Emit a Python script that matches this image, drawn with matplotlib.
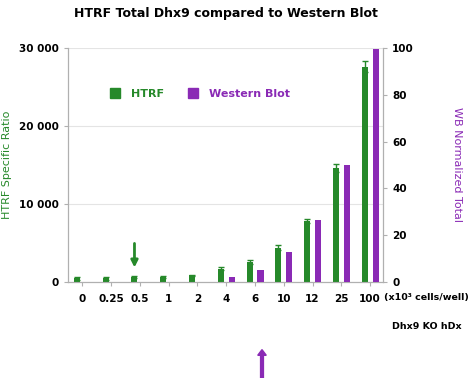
import numpy as np
from matplotlib import pyplot as plt
from matplotlib.patches import Patch

# cell densities (x10^3 cells/well)
cells = ['0', '0.25', '0.5', '1', '2', '4', '6', '10', '12', '25', '100']
htrf = [450, 450, 600, 650, 850, 1700, 2600, 4400, 7800, 14600, 27600]
htrf_err = [150, 150, 150, 100, 80, 200, 250, 300, 300, 500, 700]
wb = [0, 0, 0, 0, 0, 2, 5, 13, 26.5, 50, 99.6]

green = '#26892a'
purple = '#8a2ab5'

fig = plt.figure(figsize=(4.74, 3.78), dpi=100)
ax = fig.add_axes([0.1435, 0.254, 0.6646, 0.619])
ax2 = ax.twinx()

x = np.arange(len(cells))
w = 0.21
ax.bar(x - 0.19, htrf, w, color=green, yerr=htrf_err,
       error_kw=dict(ecolor=green, elinewidth=1, capsize=2, capthick=1), zorder=3)
ax2.bar(x + 0.19, wb, w, color=purple, zorder=3)

ax.set_xlim(-0.5, 10.45)
ax.set_ylim(0, 30000)
ax2.set_ylim(0, 100)
ax.set_yticks([0, 10000, 20000, 30000])
ax.set_yticklabels(['0', '10 000', '20 000', '30 000'])
ax2.set_yticks([0, 20, 40, 60, 80, 100])
ax.set_xticks(x)
ax.set_xticklabels(cells)
ax.grid(axis='y', color='#e4e4e4', lw=0.8, zorder=0)
ax.set_axisbelow(True)

for a in (ax, ax2):
    for s in a.spines.values():
        s.set_color('#b0b0b0')
    a.spines['top'].set_visible(False)
    a.tick_params(colors='#b0b0b0', labelcolor='black', labelsize=7.5, length=3)
    for lbl in a.get_xticklabels() + a.get_yticklabels():
        lbl.set_fontweight('bold')
ax.tick_params(axis='x', pad=6)

ax.set_ylabel('HTRF Specific Ratio', color=green, fontsize=8)
ax.yaxis.set_label_coords(-0.178, 0.5)
ax2.set_ylabel('WB Normalized Total', color=purple, fontsize=8, rotation=270,
               va='center')
ax2.yaxis.set_label_coords(1.235, 0.5)
ax.set_title('HTRF Total Dhx9 compared to Western Blot', fontsize=9,
             fontweight='bold', pad=22)

handles = [Patch(color=green, label='HTRF'), Patch(color=purple, label='Western Blot')]
leg = ax.legend(handles=handles, ncol=2, frameon=False, loc='upper left',
                bbox_to_anchor=(0.1, 0.87), fontsize=8, handlelength=0.9,
                handleheight=0.9, columnspacing=2.2, handletextpad=1.0)
for t, c in zip(leg.get_texts(), [green, purple]):
    t.set_color(c)
    t.set_fontweight('bold')

fig.text(0.81, 0.212, '(x10³ cells/well)', fontsize=6.8, fontweight='bold',
         va='center')
fig.text(0.828, 0.135, 'Dhx9 KO hDx', fontsize=6.8, fontweight='bold',
         va='center')

# arrows
ax.annotate('', xy=(2 - 0.19, 1500), xytext=(2 - 0.19, 5300),
            arrowprops=dict(arrowstyle='-|>', color=green, lw=2, mutation_scale=10))
fig.patches.append(plt.Arrow(262 / 474, 0.0, 0, 0.075, width=0.03, color=purple,
                             transform=fig.transFigure, figure=fig))

fig.savefig('out.png', dpi=100)
